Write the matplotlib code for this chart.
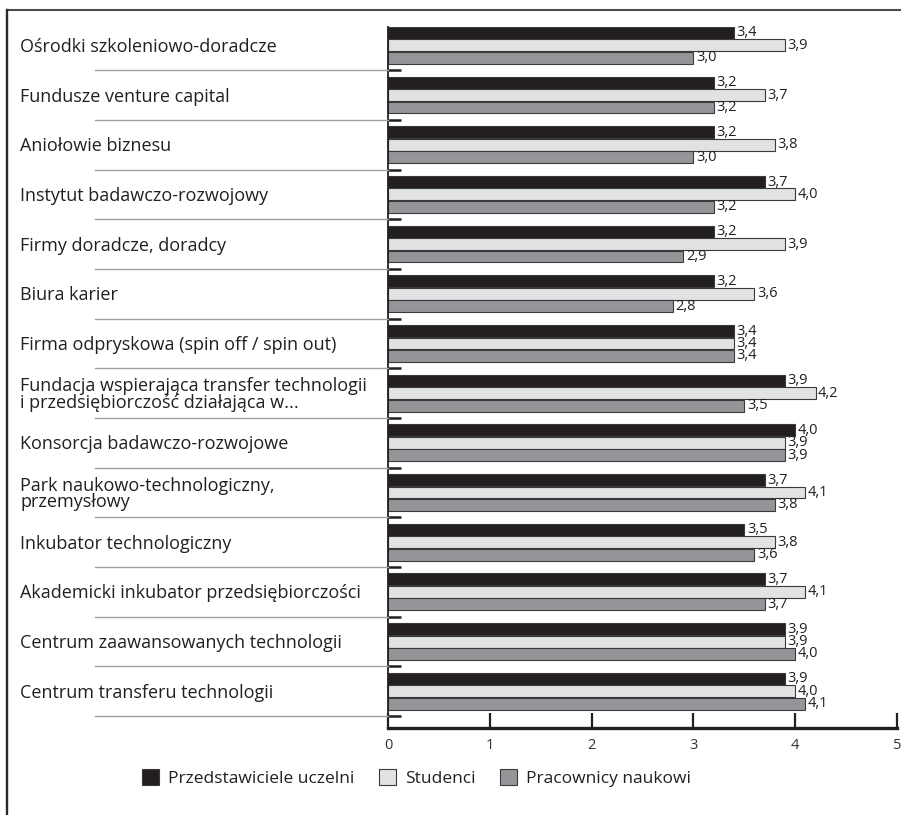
import matplotlib.pyplot as plt
import numpy as np
from matplotlib.transforms import blended_transform_factory
from matplotlib.lines import Line2D
from matplotlib.patches import Patch

plt.rcParams['font.family'] = ['Open Sans', 'DejaVu Sans']

categories = [
    'Ośrodki szkoleniowo-doradcze',
    'Fundusze venture capital',
    'Aniołowie biznesu',
    'Instytut badawczo-rozwojowy',
    'Firmy doradcze, doradcy',
    'Biura karier',
    'Firma odpryskowa (spin off / spin out)',
    'Fundacja wspierająca transfer technologii\ni przedsiębiorczość działająca w...',
    'Konsorcja badawczo-rozwojowe',
    'Park naukowo-technologiczny,\nprzemysłowy',
    'Inkubator technologiczny',
    'Akademicki inkubator przedsiębiorczości',
    'Centrum zaawansowanych technologii',
    'Centrum transferu technologii',
]
uczelnie = [3.4, 3.2, 3.2, 3.7, 3.2, 3.2, 3.4, 3.9, 4.0, 3.7, 3.5, 3.7, 3.9, 3.9]
studenci = [3.9, 3.7, 3.8, 4.0, 3.9, 3.6, 3.4, 4.2, 3.9, 4.1, 3.8, 4.1, 3.9, 4.0]
pracownicy = [3.0, 3.2, 3.0, 3.2, 2.9, 2.8, 3.4, 3.5, 3.9, 3.8, 3.6, 3.7, 4.0, 4.1]
series_names = ['Przedstawiciele uczelni', 'Studenci', 'Pracownicy naukowi']
colors = ['#231f20', '#e1e2e3', '#939598']

dark = '#231f20'
fig = plt.figure(figsize=(9.01, 8.15), dpi=100)
ax = fig.add_axes([388/901, 1 - 728/815, (897 - 388)/901, (728 - 27)/815])

y = np.arange(len(categories))
h = 0.24
offsets = [-0.25, 0.0, 0.25]
for vals, off, c in zip([uczelnie, studenci, pracownicy], offsets, colors):
    ax.barh(y + off, vals, height=h, color=c, edgecolor='#3a3a3a', linewidth=0.8)
    for yi, v in zip(y, vals):
        ax.text(v + 0.025, yi + off, f'{v:.1f}'.replace('.', ','), ha='left', va='center',
                fontsize=10.5, color=dark)

ax.set_xlim(0, 5)
ax.set_ylim(13.74, -0.37)
ax.set_xticks(range(6))
ax.tick_params(axis='x', direction='in', length=10.8, width=1.6, color=dark,
               labelsize=10.5, labelcolor='#333333', pad=7)
ax.set_yticks(y + 0.5)
ax.set_yticklabels([])
ax.tick_params(axis='y', direction='in', length=9.0, width=1.8, color=dark)
for s in ['top', 'right']:
    ax.spines[s].set_visible(False)
ax.spines['bottom'].set_linewidth(2.4)
ax.spines['bottom'].set_color(dark)
ax.spines['left'].set_linewidth(1.3)
ax.spines['left'].set_color(dark)

# category labels and grey separators to the left of the axis
tr = blended_transform_factory(fig.transFigure, ax.transData)
for yi, name in zip(y, categories):
    fig.text(20/901, 0, name, transform=tr, ha='left', va='center', fontsize=13,
             color=dark, linespacing=0.9).set_y(yi + 0.03)
    fig.add_artist(Line2D([95/901, 388/901], [yi + 0.5, yi + 0.5], transform=tr,
                          color='#a0a0a0', linewidth=1.0))

# frame lines at top and left of the figure
fig.add_artist(Line2D([7/901, 1], [1 - 9.5/815, 1 - 9.5/815], transform=fig.transFigure,
                      color='#4a4a4a', linewidth=1.5))
fig.add_artist(Line2D([7/901, 7/901], [0, 1 - 9.5/815], transform=fig.transFigure,
                      color='#2a2a2a', linewidth=1.7))

handles = [Patch(facecolor=c, edgecolor='#3a3a3a', linewidth=0.8) for c in colors]
fig.legend(handles, series_names, loc='center', bbox_to_anchor=(0.462, 1 - 778/815),
           ncol=3, frameon=False, fontsize=12.5, handlelength=1.0, handleheight=1.0,
           columnspacing=1.4, handletextpad=0.5, labelcolor=dark)

fig.savefig('out.png', dpi=100)
